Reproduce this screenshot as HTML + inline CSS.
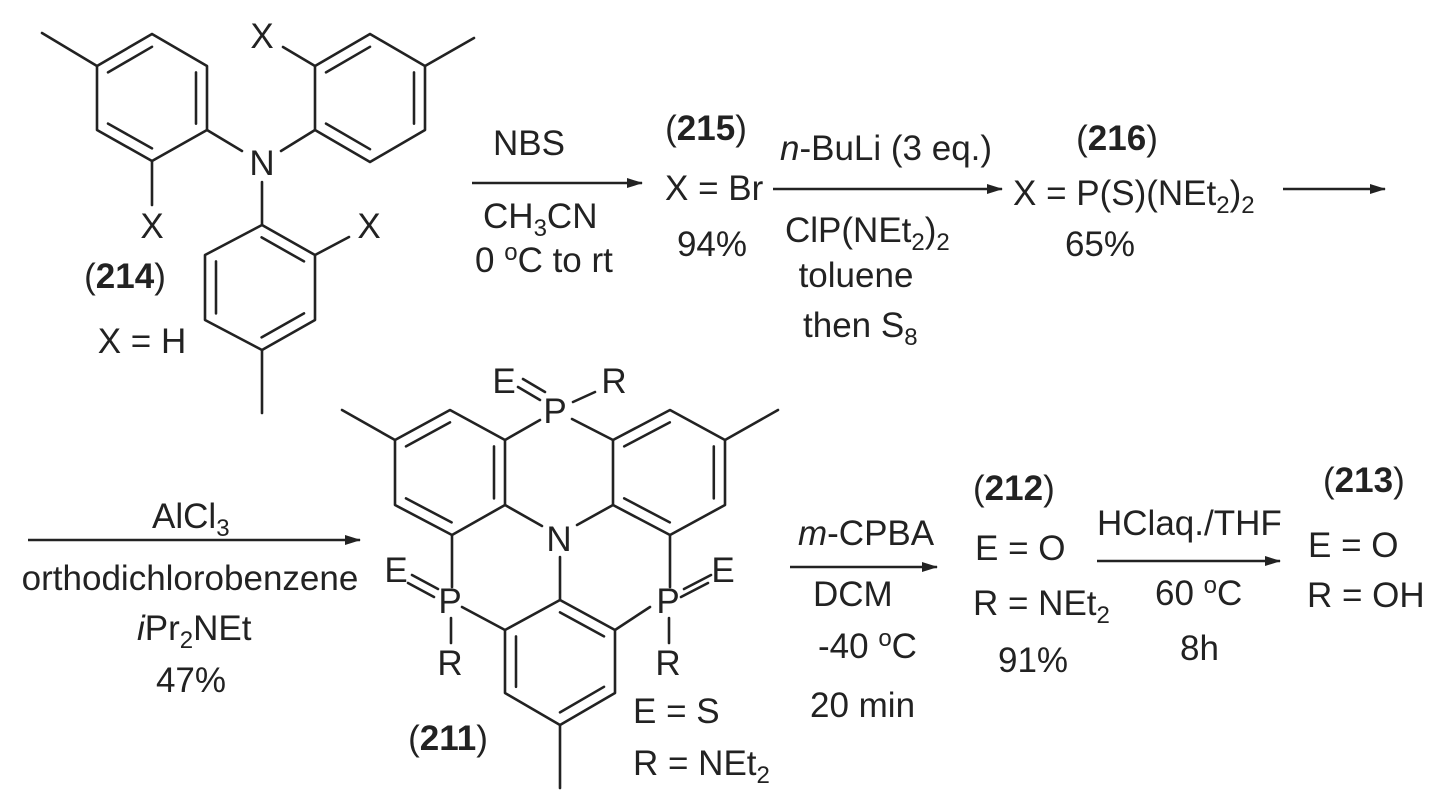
<!DOCTYPE html>
<html><head><meta charset="utf-8"><style>
html,body{margin:0;padding:0;background:#fff}
svg{display:block}
text{font-family:"Liberation Sans",Arial,sans-serif;font-size:35px;fill:#222}
.b{font-weight:bold}
.s{font-size:24px}
</style></head><body>
<svg width="1456" height="812" viewBox="0 0 1456 812" xmlns="http://www.w3.org/2000/svg">
<defs>
<marker id="ah" markerWidth="16" markerHeight="12" refX="15" refY="6" orient="auto" markerUnits="userSpaceOnUse">
<path d="M0,1 L16,6 L0,11 Z" fill="#222"/></marker>
</defs>
<g stroke="#222" stroke-width="2.6" fill="none" stroke-linecap="round" stroke-linejoin="round">
<polygon points="152,34 207,66 207,130 152,161 97,130 97,66"/>
<line x1="97" y1="66" x2="42" y2="33"/>
<line x1="152" y1="161" x2="152" y2="205"/>
<line x1="207" y1="130" x2="242" y2="151"/>
<g transform="translate(152,98) scale(0.8) translate(-152,-98)" stroke-width="3.2">
<line x1="97" y1="66" x2="152" y2="34"/><line x1="207" y1="66" x2="207" y2="130"/><line x1="97" y1="130" x2="152" y2="161"/></g>
<polygon points="315,66 370,34 425,66 425,130 370,162 315,130"/>
<line x1="425" y1="66" x2="474" y2="38"/>
<line x1="315" y1="66" x2="283" y2="47"/>
<line x1="315" y1="130" x2="281" y2="151"/>
<g transform="translate(370,98) scale(0.8) translate(-370,-98)" stroke-width="3.2">
<line x1="315" y1="66" x2="370" y2="34"/><line x1="425" y1="66" x2="425" y2="130"/><line x1="315" y1="130" x2="370" y2="162"/></g>
<line x1="262" y1="182" x2="262" y2="224"/>
<polygon points="262,225 315,255 315,320 262,350 205,320 205,255"/>
<line x1="315" y1="255" x2="349" y2="237"/>
<line x1="262" y1="350" x2="262" y2="413"/>
<g transform="translate(260,287) scale(0.8) translate(-260,-287)" stroke-width="3.2">
<line x1="262" y1="225" x2="315" y2="255"/><line x1="205" y1="255" x2="205" y2="320"/><line x1="262" y1="350" x2="315" y2="320"/></g>

<polygon points="450,410 505,440 505,505 452,535 395,505 395,440"/>
<line x1="395" y1="440" x2="342" y2="410"/>
<g transform="translate(450,472) scale(0.8) translate(-450,-472)" stroke-width="3.2">
<line x1="395" y1="440" x2="450" y2="410"/><line x1="505" y1="440" x2="505" y2="505"/><line x1="395" y1="505" x2="452" y2="535"/></g>
<polygon points="613,440 670,410 725,440 725,505 670,535 613,505"/>
<line x1="725" y1="440" x2="778" y2="410"/>
<g transform="translate(669,472) scale(0.8) translate(-669,-472)" stroke-width="3.2">
<line x1="613" y1="440" x2="670" y2="410"/><line x1="725" y1="440" x2="725" y2="505"/><line x1="613" y1="505" x2="670" y2="535"/></g>
<polygon points="560,600 615,630 615,693 560,725 505,693 505,630"/>
<line x1="560" y1="725" x2="560" y2="788"/>
<g transform="translate(560,662) scale(0.8) translate(-560,-662)" stroke-width="3.2">
<line x1="560" y1="600" x2="615" y2="630"/><line x1="505" y1="630" x2="505" y2="693"/><line x1="560" y1="725" x2="615" y2="693"/></g>
<line x1="505" y1="505" x2="542" y2="526"/>
<line x1="613" y1="505" x2="577" y2="525"/>
<line x1="560" y1="557" x2="560" y2="600"/>
<line x1="505" y1="440" x2="540" y2="420"/>
<line x1="572" y1="419" x2="613" y2="440"/>
<line x1="573" y1="402" x2="595" y2="392"/>
<line x1="518" y1="387" x2="540" y2="400"/>
<line x1="523" y1="379" x2="545" y2="392"/>
<line x1="452" y1="535" x2="452" y2="587"/>
<line x1="462" y1="607" x2="505" y2="630"/>
<line x1="451" y1="618" x2="451" y2="643"/>
<line x1="408" y1="583" x2="434" y2="597"/>
<line x1="412" y1="575" x2="438" y2="589"/>
<line x1="670" y1="535" x2="670" y2="587"/>
<line x1="650" y1="607" x2="615" y2="630"/>
<line x1="669" y1="618" x2="669" y2="643"/>
<line x1="681" y1="597" x2="708" y2="583"/>
<line x1="684" y1="589" x2="711" y2="575"/>
</g>
<g stroke="#222" stroke-width="2.6" marker-end="url(#ah)">
<line x1="472" y1="183" x2="642" y2="183"/>
<line x1="773" y1="189" x2="1002" y2="189"/>
<line x1="1283" y1="189" x2="1385" y2="189"/>
<line x1="28" y1="540" x2="360" y2="540"/>
<line x1="790" y1="567" x2="937" y2="567"/>
<line x1="1097" y1="561" x2="1280" y2="561"/>
</g>
<text x="262" y="48" text-anchor="middle">X</text>
<text x="262" y="175" text-anchor="middle">N</text>
<text x="152" y="238" text-anchor="middle">X</text>
<text x="369" y="238" text-anchor="middle">X</text>
<text x="125" y="288" text-anchor="middle">(<tspan class="b">214</tspan>)</text>
<text x="142" y="353" text-anchor="middle">X = H</text>
<text x="529" y="155" text-anchor="middle">NBS</text>
<text x="483" y="228">CH<tspan class="s" dy="8">3</tspan><tspan dy="-8">CN</tspan></text>
<text x="475" y="272">0 <tspan class="s" dy="-12">o</tspan><tspan dy="12">C to rt</tspan></text>
<text x="706" y="140" text-anchor="middle">(<tspan class="b">215</tspan>)</text>
<text x="665" y="200">X = Br</text>
<text x="712" y="256" text-anchor="middle">94%</text>
<text x="780" y="160"><tspan font-style="italic">n</tspan>-BuLi (3 eq.)</text>
<text x="785" y="242">ClP(NEt<tspan class="s" dy="8">2</tspan><tspan dy="-8">)</tspan><tspan class="s" dy="8">2</tspan></text>
<text x="856" y="287" text-anchor="middle">toluene</text>
<text x="803" y="337">then S<tspan class="s" dy="8">8</tspan></text>
<text x="1117" y="150" text-anchor="middle">(<tspan class="b">216</tspan>)</text>
<text x="1013" y="205">X = P(S)(NEt<tspan class="s" dy="8">2</tspan><tspan dy="-8">)</tspan><tspan class="s" dy="8">2</tspan></text>
<text x="1100" y="256" text-anchor="middle">65%</text>
<text x="152" y="528">AlCl<tspan class="s" dy="8">3</tspan></text>
<text x="190" y="590" text-anchor="middle">orthodichlorobenzene</text>
<text x="137" y="640"><tspan font-style="italic">i</tspan>Pr<tspan class="s" dy="8">2</tspan><tspan dy="-8">NEt</tspan></text>
<text x="191" y="692" text-anchor="middle">47%</text>
<text x="504" y="393" text-anchor="middle">E</text>
<text x="614" y="393" text-anchor="middle">R</text>
<text x="555" y="423" text-anchor="middle">P</text>
<text x="559" y="551" text-anchor="middle">N</text>
<text x="396" y="582" text-anchor="middle">E</text>
<text x="450" y="613" text-anchor="middle">P</text>
<text x="450" y="675" text-anchor="middle">R</text>
<text x="723" y="582" text-anchor="middle">E</text>
<text x="668" y="613" text-anchor="middle">P</text>
<text x="668" y="675" text-anchor="middle">R</text>
<text x="448" y="750" text-anchor="middle">(<tspan class="b">211</tspan>)</text>
<text x="633" y="723">E = S</text>
<text x="633" y="775">R = NEt<tspan class="s" dy="8">2</tspan></text>
<text x="798" y="545"><tspan font-style="italic">m</tspan>-CPBA</text>
<text x="813" y="606">DCM</text>
<text x="818" y="658">-40 <tspan class="s" dy="-12">o</tspan><tspan dy="12">C</tspan></text>
<text x="810" y="717">20 min</text>
<text x="973" y="500">(<tspan class="b">212</tspan>)</text>
<text x="975" y="560">E = O</text>
<text x="973" y="615">R = NEt<tspan class="s" dy="8">2</tspan></text>
<text x="998" y="672">91%</text>
<text x="1097" y="535">HClaq./THF</text>
<text x="1155" y="605">60 <tspan class="s" dy="-12">o</tspan><tspan dy="12">C</tspan></text>
<text x="1180" y="660">8h</text>
<text x="1323" y="492">(<tspan class="b">213</tspan>)</text>
<text x="1308" y="557">E = O</text>
<text x="1307" y="607">R = OH</text>
</svg>
</body></html>
